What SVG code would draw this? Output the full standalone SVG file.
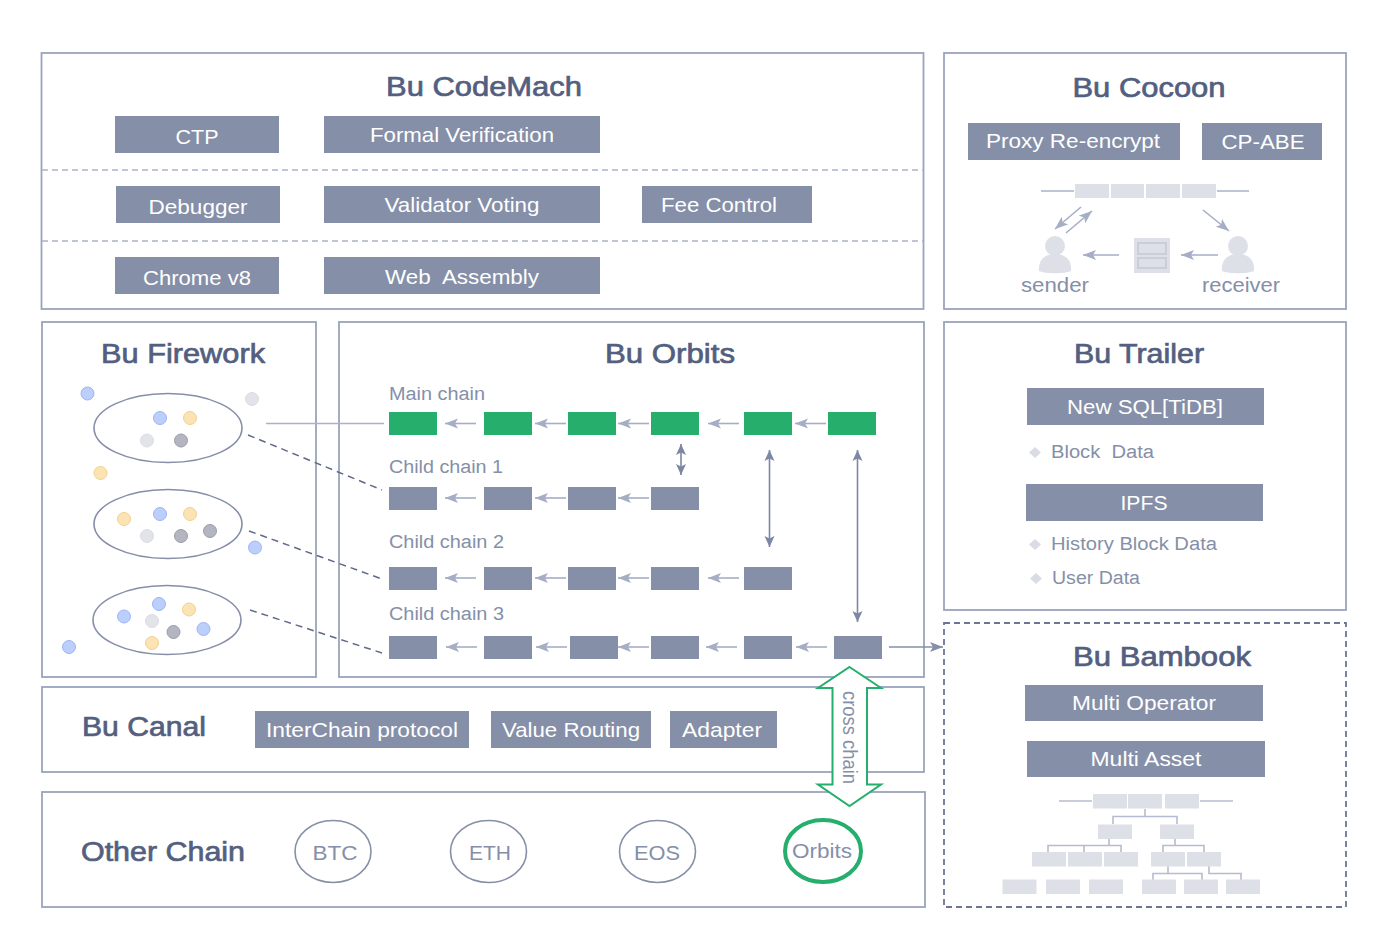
<svg xmlns="http://www.w3.org/2000/svg" width="1389" height="952" viewBox="0 0 1389 952">
<style>
text{font-family:"Liberation Sans",Arial,sans-serif}
.panel{fill:#fff;stroke:#9aa4bd;stroke-width:1.800}
.title{font-size:27px;fill:#535f80;stroke:#535f80;stroke-width:.7;text-anchor:middle}
.btn{fill:#858fa8}
.bt{font-size:21px;fill:#fff;text-anchor:middle}
.lab{font-size:18px;fill:#858fa8}
.cap{font-size:21px;fill:#858fa8;text-anchor:middle}
.div{stroke:#aab2c6;stroke-width:1.500;stroke-dasharray:6 4;fill:none}
.g{fill:#26ae6c}
.c{fill:#858fa8}
.l{stroke:#aab2c8;stroke-width:1.600;fill:none}
.a{stroke:#a6aec6;stroke-width:1.600;fill:none;marker-end:url(#ah)}
.b{stroke:#7d87a3;stroke-width:1.600;fill:none;marker-start:url(#ad);marker-end:url(#ad)}
.da{stroke:#5f6a8a;stroke-width:1.500;stroke-dasharray:7 5;fill:none}
.lg{fill:#dde0e7}
.el{fill:#fff;stroke:#858fa8;stroke-width:1.600}
.cb{fill:#bccefb;stroke:#9cb5f4}
.cy{fill:#fbe3b4;stroke:#f2d18e}
.cg{fill:#e2e4ea;stroke:#dadde4}
.cd{fill:#b3b5c0;stroke:#9b9daa}
.t{stroke:#b6bccf;stroke-width:1.600;fill:none}
.dia{fill:#d9dce5}
</style>
<defs>
<marker id="ah" markerUnits="userSpaceOnUse" markerWidth="14" markerHeight="12" refX="13" refY="6" orient="auto"><path d="M0 1L13 6L0 11L3 6Z" fill="#a6aec6"/></marker>
<marker id="ad" markerUnits="userSpaceOnUse" markerWidth="12" markerHeight="12" refX="11" refY="6" orient="auto-start-reverse"><path d="M0 1L11 6L0 11L2.500 6Z" fill="#7d87a3"/></marker>
<marker id="ao" markerUnits="userSpaceOnUse" markerWidth="14" markerHeight="12" refX="13" refY="6" orient="auto"><path d="M0 1L13 6L0 11L3 6Z" fill="#858fa8"/></marker>
<g id="person"><circle cx="0" cy="-9" r="10" fill="#dde0e7"/><path d="M-16 16C-17 2-7-1 0-1S17 2 16 16C10 19-10 19-16 16Z" fill="#dde0e7"/></g>
</defs>
<rect width="1389" height="952" fill="#fff"/>

<g id="codemach">
<rect class="panel" x="41.500" y="53" width="882" height="256"/>
<path class="div" d="M42 170H923M42 241H923"/>
<text class="title" x="484" y="96" textLength="196" lengthAdjust="spacingAndGlyphs">Bu CodeMach</text>
<rect class="btn" x="115" y="116" width="164" height="37"/><text class="bt" x="197" y="144" textLength="43" lengthAdjust="spacingAndGlyphs">CTP</text>
<rect class="btn" x="324" y="116" width="276" height="37"/><text class="bt" x="462" y="142" textLength="184" lengthAdjust="spacingAndGlyphs">Formal Verification</text>
<rect class="btn" x="116" y="186" width="164" height="37"/><text class="bt" x="198" y="214" textLength="99" lengthAdjust="spacingAndGlyphs">Debugger</text>
<rect class="btn" x="324" y="186" width="276" height="37"/><text class="bt" x="462" y="212" textLength="155" lengthAdjust="spacingAndGlyphs">Validator Voting</text>
<rect class="btn" x="642" y="186" width="170" height="37"/><text class="bt" x="719" y="212" textLength="116" lengthAdjust="spacingAndGlyphs">Fee Control</text>
<rect class="btn" x="115" y="257" width="164" height="37"/><text class="bt" x="197" y="285" textLength="108" lengthAdjust="spacingAndGlyphs">Chrome v8</text>
<rect class="btn" x="324" y="257" width="276" height="37"/><text class="bt" x="462" y="284" textLength="154" lengthAdjust="spacingAndGlyphs" xml:space="preserve">Web  Assembly</text>
</g>

<g id="cocoon">
<rect class="panel" x="944" y="53" width="402" height="256"/>
<text class="title" x="1149" y="97" textLength="153" lengthAdjust="spacingAndGlyphs">Bu Cocoon</text>
<rect class="btn" x="968" y="123" width="212" height="37"/><text class="bt" x="1073" y="148" textLength="174" lengthAdjust="spacingAndGlyphs">Proxy Re-encrypt</text>
<rect class="btn" x="1202" y="123" width="120" height="37"/><text class="bt" x="1263" y="149" textLength="83" lengthAdjust="spacingAndGlyphs">CP-ABE</text>
<path class="l" d="M1041 191H1074M1217 191H1249"/>
<rect class="lg" x="1075" y="184" width="34" height="14"/><rect class="lg" x="1111" y="184" width="33" height="14"/><rect class="lg" x="1146" y="184" width="34" height="14"/><rect class="lg" x="1182" y="184" width="34" height="14"/>
<use href="#person" x="1055" y="255"/><use href="#person" x="1238" y="255"/>
<rect class="lg" x="1134" y="238" width="36" height="35"/>
<rect x="1138" y="243" width="28" height="11" fill="none" stroke="#c3c7d4" stroke-width="1.500"/><rect x="1138" y="258" width="28" height="10" fill="none" stroke="#c3c7d4" stroke-width="1.500"/>
<text class="cap" x="1055" y="292" textLength="68" lengthAdjust="spacingAndGlyphs">sender</text>
<text class="cap" x="1241" y="292" textLength="78" lengthAdjust="spacingAndGlyphs">receiver</text>
</g>

<g id="firework">
<rect class="panel" x="42" y="322" width="274" height="355"/>
<text class="title" x="183" y="363" textLength="164" lengthAdjust="spacingAndGlyphs">Bu Firework</text>
<ellipse class="el" cx="168" cy="428" rx="74" ry="34.500"/>
<ellipse class="el" cx="168" cy="524" rx="74" ry="34.500"/>
<ellipse class="el" cx="167" cy="620" rx="74" ry="34.500"/>
<circle class="cb" cx="87.500" cy="393.500" r="6.500"/><circle class="cg" cx="252" cy="399" r="6.500"/>
<circle class="cb" cx="160" cy="418" r="6.500"/><circle class="cy" cx="190" cy="418" r="6.500"/><circle class="cg" cx="147" cy="440.500" r="6.500"/><circle class="cd" cx="181" cy="440.500" r="6.500"/>
<circle class="cy" cx="100.500" cy="473" r="6.500"/>
<circle class="cy" cx="124" cy="519" r="6.500"/><circle class="cb" cx="160" cy="514" r="6.500"/><circle class="cy" cx="190" cy="514" r="6.500"/><circle class="cg" cx="147" cy="536" r="6.500"/><circle class="cd" cx="181" cy="536" r="6.500"/><circle class="cd" cx="210" cy="531" r="6.500"/>
<circle class="cb" cx="255" cy="547.500" r="6.500"/>
<circle class="cb" cx="124" cy="616.500" r="6.500"/><circle class="cb" cx="159" cy="604" r="6.500"/><circle class="cy" cx="189" cy="609.500" r="6.500"/><circle class="cg" cx="152" cy="621" r="6.500"/><circle class="cd" cx="173.500" cy="632" r="6.500"/><circle class="cb" cx="203.500" cy="629" r="6.500"/><circle class="cy" cx="152" cy="643" r="6.500"/>
<circle class="cb" cx="69" cy="647" r="6.500"/>
</g>

<g id="orbits">
<rect class="panel" x="339" y="322" width="585" height="355"/>
<text class="title" x="670" y="363" textLength="130" lengthAdjust="spacingAndGlyphs">Bu Orbits</text>
<text class="lab" x="389" y="400" textLength="96" lengthAdjust="spacingAndGlyphs">Main chain</text>
<text class="lab" x="389" y="473" textLength="114" lengthAdjust="spacingAndGlyphs">Child chain 1</text>
<text class="lab" x="389" y="548" textLength="115" lengthAdjust="spacingAndGlyphs">Child chain 2</text>
<text class="lab" x="389" y="620" textLength="115" lengthAdjust="spacingAndGlyphs">Child chain 3</text>
<rect class="g" x="389" y="412" width="48" height="23"/><rect class="g" x="484" y="412" width="48" height="23"/><rect class="g" x="568" y="412" width="48" height="23"/><rect class="g" x="651" y="412" width="48" height="23"/><rect class="g" x="744" y="412" width="48" height="23"/><rect class="g" x="828" y="412" width="48" height="23"/>
<rect class="c" x="389" y="487" width="48" height="23"/><rect class="c" x="484" y="487" width="48" height="23"/><rect class="c" x="568" y="487" width="48" height="23"/><rect class="c" x="651" y="487" width="48" height="23"/>
<rect class="c" x="389" y="567" width="48" height="23"/><rect class="c" x="484" y="567" width="48" height="23"/><rect class="c" x="568" y="567" width="48" height="23"/><rect class="c" x="651" y="567" width="48" height="23"/><rect class="c" x="744" y="567" width="48" height="23"/>
<rect class="c" x="389" y="636" width="48" height="23"/><rect class="c" x="484" y="636" width="48" height="23"/><rect class="c" x="570" y="636" width="48" height="23"/><rect class="c" x="651" y="636" width="48" height="23"/><rect class="c" x="744" y="636" width="48" height="23"/><rect class="c" x="834" y="636" width="48" height="23"/>
</g>

<g id="trailer">
<rect class="panel" x="944" y="322" width="402" height="288"/>
<text class="title" x="1139" y="363" textLength="130" lengthAdjust="spacingAndGlyphs">Bu Trailer</text>
<rect class="btn" x="1027" y="388" width="237" height="37"/><text class="bt" x="1145" y="414" textLength="156" lengthAdjust="spacingAndGlyphs">New SQL[TiDB]</text>
<path class="dia" d="M1035 447L1041 452.500L1035 458L1029 452.500Z"/>
<text class="lab" x="1051" y="458" textLength="103" lengthAdjust="spacingAndGlyphs" xml:space="preserve">Block  Data</text>
<rect class="btn" x="1026" y="484" width="237" height="37"/><text class="bt" x="1144" y="510" textLength="47" lengthAdjust="spacingAndGlyphs">IPFS</text>
<path class="dia" d="M1035 539L1041 544.500L1035 550L1029 544.500Z"/>
<text class="lab" x="1051" y="550" textLength="166" lengthAdjust="spacingAndGlyphs">History Block Data</text>
<path class="dia" d="M1036 573L1042 578.500L1036 584L1030 578.500Z"/>
<text class="lab" x="1052" y="584" textLength="88" lengthAdjust="spacingAndGlyphs">User Data</text>
</g>

<g id="bambook">
<rect x="944" y="623" width="402" height="284" fill="#fff" stroke="#6b7695" stroke-width="1.800" stroke-dasharray="6 4"/>
<text class="title" x="1162" y="666" textLength="178" lengthAdjust="spacingAndGlyphs">Bu Bambook</text>
<rect class="btn" x="1025" y="685" width="238" height="36"/><text class="bt" x="1144" y="710" textLength="144" lengthAdjust="spacingAndGlyphs">Multi Operator</text>
<rect class="btn" x="1027" y="741" width="238" height="36"/><text class="bt" x="1146" y="766" textLength="111" lengthAdjust="spacingAndGlyphs">Multi Asset</text>
<path class="t" d="M1059 801H1092M1200 801H1233M1145 809V816.500M1113 824V816.500H1177V824M1109 839V845.500M1048 852V845.500H1121V852M1084 845.500V852M1175 839V845.500M1163 852V845.500H1204V852M1168 866V873.500M1153 880V873.500H1202V880M1209 866V873.500H1241V880"/>
<g class="lg"><rect x="1093" y="794" width="34" height="14.500"/><rect x="1128" y="794" width="34" height="14.500"/><rect x="1165" y="794" width="34" height="14.500"/>
<rect x="1098" y="824.500" width="34" height="14.500"/><rect x="1160" y="824.500" width="34" height="14.500"/>
<rect x="1032" y="852" width="34" height="14.500"/><rect x="1068" y="852" width="34" height="14.500"/><rect x="1104" y="852" width="34" height="14.500"/><rect x="1151" y="852" width="34" height="14.500"/><rect x="1187" y="852" width="34" height="14.500"/>
<rect x="1002.500" y="879.500" width="34" height="14.500"/><rect x="1046" y="879.500" width="34" height="14.500"/><rect x="1089" y="879.500" width="34" height="14.500"/><rect x="1142" y="879.500" width="34" height="14.500"/><rect x="1184" y="879.500" width="34" height="14.500"/><rect x="1226" y="879.500" width="34" height="14.500"/></g>
</g>

<g id="canal">
<rect class="panel" x="42" y="687" width="882" height="85"/>
<text class="title" x="144" y="736" textLength="124" lengthAdjust="spacingAndGlyphs">Bu Canal</text>
<rect class="btn" x="255" y="711" width="214" height="37"/><text class="bt" x="362" y="737" textLength="192" lengthAdjust="spacingAndGlyphs">InterChain protocol</text>
<rect class="btn" x="491" y="711" width="160" height="37"/><text class="bt" x="571" y="737" textLength="138" lengthAdjust="spacingAndGlyphs">Value Routing</text>
<rect class="btn" x="670" y="711" width="107" height="37"/><text class="bt" x="722" y="737" textLength="80" lengthAdjust="spacingAndGlyphs">Adapter</text>
</g>

<g id="otherchain">
<rect class="panel" x="42" y="792" width="883" height="115"/>
<text class="title" x="163" y="861" textLength="164" lengthAdjust="spacingAndGlyphs">Other Chain</text>
<ellipse class="el" cx="333" cy="851.500" rx="38" ry="31"/><text class="cap" x="335" y="860" textLength="45" lengthAdjust="spacingAndGlyphs">BTC</text>
<ellipse class="el" cx="488.500" cy="851.500" rx="38" ry="31"/><text class="cap" x="490" y="860" textLength="42" lengthAdjust="spacingAndGlyphs">ETH</text>
<ellipse class="el" cx="657.500" cy="851.500" rx="38" ry="31"/><text class="cap" x="657" y="860" textLength="46" lengthAdjust="spacingAndGlyphs">EOS</text>
<ellipse cx="823" cy="851" rx="38" ry="31" fill="#fff" stroke="#26ae6c" stroke-width="4"/><text class="cap" x="822" y="858" textLength="60" lengthAdjust="spacingAndGlyphs">Orbits</text>
</g>

<g id="crosschain">
<path d="M849.500 667L881 688H867V784.500H881L849.500 806L818 784.500H832.500V688H818Z" fill="#fff" stroke="#26ae6c" stroke-width="2"/>
<text transform="translate(843 691) rotate(90)" font-size="20" fill="#858fa8" textLength="93" lengthAdjust="spacingAndGlyphs">cross chain</text>
</g>

<g id="connectors">
<path class="l" d="M266 423.500H384"/>
<path class="da" d="M248 435L382 490M249 531L382 579M250 610L382 653"/>
<path class="a" d="M476 423.500H445"/><path class="a" d="M566 423.500H535"/><path class="a" d="M649 423.500H618"/><path class="a" d="M739 423.500H708"/><path class="a" d="M826 423.500H795"/>
<path class="a" d="M476 498H445"/><path class="a" d="M566 498H535"/><path class="a" d="M649 498H618"/>
<path class="a" d="M476 578H445"/><path class="a" d="M566 578H535"/><path class="a" d="M649 578H618"/><path class="a" d="M739 578H708"/>
<path class="a" d="M477 647H446"/><path class="a" d="M567 647H536"/><path class="a" d="M649 647H618"/><path class="a" d="M737 647H706"/><path class="a" d="M827 647H796"/>
<path class="b" d="M681 444V475"/><path class="b" d="M769.500 450V547"/><path class="b" d="M857.500 450V622"/>
<path d="M889 647H943" stroke="#858fa8" stroke-width="1.600" fill="none" marker-end="url(#ao)"/>
<path class="a" d="M1081 207L1055 229"/><path class="a" d="M1066 233L1092 211"/><path class="a" d="M1203 210L1229 231"/><path class="a" d="M1119 255H1083"/><path class="a" d="M1218 255H1181"/>
</g>
</svg>
